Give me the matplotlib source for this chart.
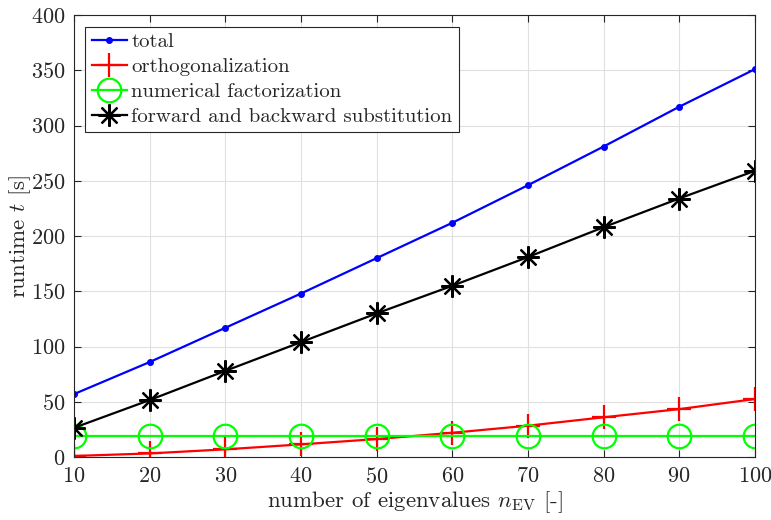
import matplotlib
matplotlib.use("Agg")
import matplotlib.pyplot as plt

plt.rcParams["font.family"] = "serif"
plt.rcParams["font.serif"] = ["cmr10", "DejaVu Serif"]
plt.rcParams["mathtext.fontset"] = "cm"
plt.rcParams["axes.formatter.use_mathtext"] = True

n_ev = [10, 20, 30, 40, 50, 60, 70, 80, 90, 100]
total = [57, 86, 117, 148, 180, 212, 246, 281, 317, 351]
orthogonalization = [1, 3.3, 7, 11.5, 16.3, 22, 28.4, 36, 43.4, 52.5]
factorization = [19.3] * 10
substitution = [26.5, 51.6, 78, 104, 130, 155, 181, 208, 234, 259]

labels = ["total", "orthogonalization", "numerical factorization",
          "forward and backward substitution"]

dark = (0.15, 0.15, 0.15)

fig = plt.figure(figsize=(7.71, 5.20), dpi=100)
ax = fig.add_axes([0.096, 0.121, 0.883, 0.850])

ax.plot(n_ev, total, color="#0000ff", lw=1.6, marker="o", ms=4, label=labels[0])
ax.plot(n_ev, orthogonalization, color="#ff0000", lw=1.6, marker="+", ms=17,
        mew=1.6, label=labels[1])
ax.plot(n_ev, factorization, color="#00ff00", lw=1.6, marker="o", ms=17,
        mfc="none", mew=1.6, label=labels[2])
ax.plot(n_ev, substitution, color="black", lw=1.6, marker=(8, 2, 0), ms=16,
        mew=1.6, label=labels[3])

ax.set_xlim(10, 100)
ax.set_ylim(0, 400)
ax.set_xticks(range(10, 101, 10))
ax.set_yticks(range(0, 401, 50))
ax.grid(True, color=(0.88, 0.88, 0.88), lw=0.8)
ax.set_axisbelow(True)
ax.tick_params(direction="in", top=True, right=True, labelsize=16,
               colors=dark, length=5)
ax.tick_params(axis="x", pad=7)
ax.tick_params(axis="y", pad=6)
for s in ax.spines.values():
    s.set_color(dark)
    s.set_linewidth(0.8)

ax.set_xlabel(r"number of eigenvalues $n_{\mathrm{EV}}$ [-]", fontsize=16.5,
              color=dark, labelpad=2)
ax.set_ylabel(r"runtime $t$ [s]", fontsize=16.5, color=dark, labelpad=-1)

leg = ax.legend(loc="upper left", fontsize=15, fancybox=False, framealpha=1,
                edgecolor=dark, handlelength=1.7, handletextpad=0.2,
                borderaxespad=0.55, labelspacing=0.3, borderpad=0.3)
leg.get_frame().set_linewidth(0.8)
for t in leg.get_texts():
    t.set_color(dark)

fig.savefig("out.png", dpi=100)
